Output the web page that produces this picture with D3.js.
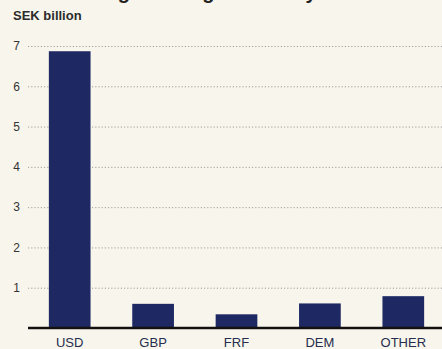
<!DOCTYPE html>
<html>
<head>
<meta charset="utf-8">
<script src="https://cdn.jsdelivr.net/npm/d3@7"></script>
<style>
  html, body { margin: 0; padding: 0; background: #f8f6ec; }
  #chart { width: 442px; height: 349px; overflow: hidden; }
  text { font-family: "Liberation Sans", Arial, sans-serif; }
</style>
</head>
<body>
<div id="chart"></div>
<script>
const categories = ['USD', 'GBP', 'FRF', 'DEM', 'OTHER'];
const values = [6.87, 0.6, 0.34, 0.61, 0.79];
const yTicks = [1, 2, 3, 4, 5, 6, 7];
const unitLabel = 'SEK billion';
const titleText = 'Borrowing in foreign currency';

const W = 442, H = 349;
const M = { t: 46, r: 0, b: 21, l: 28 };

const svg = d3.select('#chart').append('svg')
  .attr('width', W)
  .attr('height', H)
  .style('display', 'block');

svg.append('rect').attr('width', W).attr('height', H).attr('fill', '#f8f6ec');

const x = d3.scaleBand()
  .domain(categories)
  .range([M.l, W + 3])
  .paddingInner(0.5)
  .paddingOuter(0.25);

const y = d3.scaleLinear()
  .domain([0, 7])
  .range([H - M.b, M.t]);

// title, cut off by the top edge as in the scan
svg.append('text')
  .attr('x', 30).attr('y', -1)
  .style('font-size', '20px')
  .style('font-weight', 'bold')
  .attr('fill', '#222')
  .text(titleText);

svg.append('text')
  .attr('x', 13).attr('y', 20)
  .style('font-size', '13px')
  .style('font-weight', 'bold')
  .attr('fill', '#2b2b2b')
  .text(unitLabel);

// dotted gridlines
svg.append('g')
  .attr('transform', `translate(${M.l},0)`)
  .call(d3.axisLeft(y).tickValues(yTicks).tickSize(-(W - M.l)).tickFormat(''))
  .call(g => g.select('.domain').remove())
  .call(g => g.selectAll('line')
    .attr('stroke', '#888')
    .attr('stroke-width', 0.8)
    .attr('stroke-dasharray', '1.2 2'));

// y tick labels
svg.append('g')
  .attr('transform', `translate(${M.l},0)`)
  .call(d3.axisLeft(y).tickValues(yTicks).tickSize(0).tickPadding(8).tickFormat(d3.format('d')))
  .call(g => g.select('.domain').remove())
  .call(g => g.selectAll('text')
    .style('font-size', '12px')
    .attr('fill', '#333'));

// bars
svg.selectAll('rect.bar')
  .data(values)
  .enter().append('rect')
  .attr('class', 'bar')
  .attr('x', (d, i) => x(categories[i]))
  .attr('y', d => y(d))
  .attr('width', x.bandwidth())
  .attr('height', d => y(0) - y(d))
  .attr('fill', '#1e2862');

// baseline
svg.append('line')
  .attr('x1', M.l).attr('x2', W)
  .attr('y1', y(0)).attr('y2', y(0))
  .attr('stroke', '#111')
  .attr('stroke-width', 2.5);

// category labels
svg.append('g')
  .attr('transform', `translate(0,${y(0)})`)
  .call(d3.axisBottom(x).tickSize(0).tickPadding(10))
  .call(g => g.select('.domain').remove())
  .call(g => g.selectAll('text')
    .style('font-size', '13px')
    .attr('fill', '#262d4f'));
</script>
</body>
</html>
